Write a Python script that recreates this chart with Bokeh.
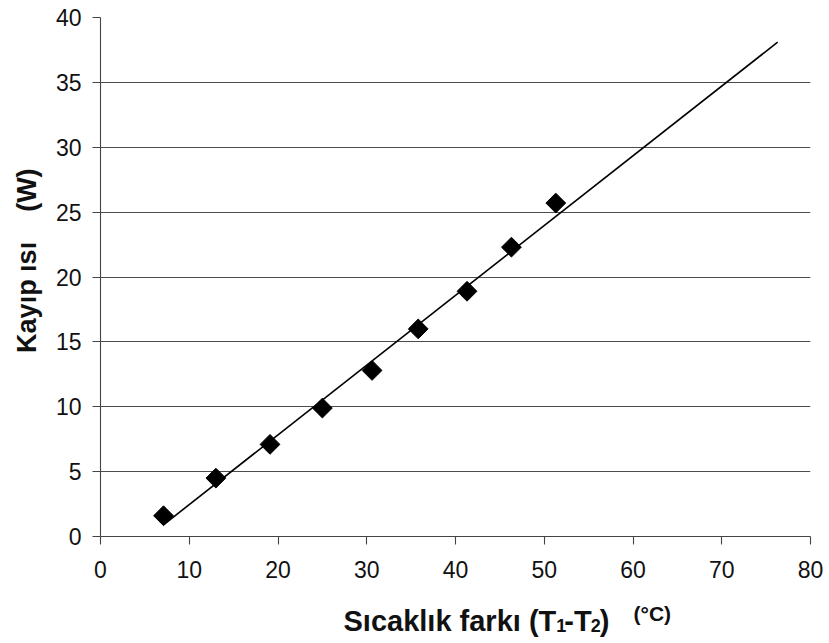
import math
from bokeh.plotting import figure
from bokeh.models import FixedTicker, Label
from bokeh.embed import file_html
from bokeh.resources import INLINE

# Data
delta_t = [7.1, 13.0, 19.1, 25.0, 30.6, 35.8, 41.3, 46.3, 51.3]
heat_loss = [1.6, 4.5, 7.1, 9.9, 12.8, 16.0, 18.9, 22.3, 25.7]
trend_x = [7.1, 76.3]
trend_y = [0.9, 38.1]
x_ticks = [0, 10, 20, 30, 40, 50, 60, 70, 80]
y_ticks = [0, 5, 10, 15, 20, 25, 30, 35, 40]

FONT = "Liberation Sans"
AXIS_COL = "#444444"
GRID_COL = "#4d4d4d"
TXT = "#111111"

p = figure(width=829, height=643, x_range=(0, 80), y_range=(0, 40),
           output_backend="svg", toolbar_location=None,
           min_border_left=100, min_border_right=19, min_border_top=17, min_border_bottom=107)
p.outline_line_color = None
p.background_fill_color = "white"
p.border_fill_color = "white"

p.xgrid.grid_line_color = None
p.ygrid.grid_line_color = GRID_COL
p.ygrid.grid_line_width = 1.1
p.ygrid.ticker = FixedTicker(ticks=y_ticks)

p.xaxis.ticker = FixedTicker(ticks=x_ticks)
p.yaxis.ticker = FixedTicker(ticks=y_ticks)
for ax in (p.xaxis[0], p.yaxis[0]):
    ax.axis_line_color = AXIS_COL
    ax.axis_line_width = 1.1
    ax.major_tick_line_color = AXIS_COL
    ax.major_tick_line_width = 1.1
    ax.major_tick_out = 8
    ax.major_tick_in = 0
    ax.minor_tick_line_color = None
    ax.major_label_text_font = FONT
    ax.major_label_text_font_size = "23px"
    ax.major_label_text_color = TXT
p.xaxis.major_label_standoff = 16
p.yaxis.major_label_standoff = 11

p.line(trend_x, trend_y, line_color="black", line_width=1.6)
p.scatter(delta_t, heat_loss, marker="square", size=14, angle=math.pi / 4,
          fill_color="black", line_color="black")

# ---- x-axis title: main text with gaps, subscripts as separate labels ----
# advance widths of Arial/Liberation Sans Bold (units per em = 1000)
ADV = {"S": 667, "ı": 278, "c": 556, "a": 556, "k": 556, "l": 278, " ": 278,
       "\u00a0": 278, "f": 333, "r": 389, "(": 333, ")": 333, "T": 611, "-": 333}
PX_PER_X = 710 / 80.0  # frame width in px / x span


def text_width(s, size):
    return sum(ADV.get(ch, 556) for ch in s) * size / 1000.0


MAIN_SIZE = 29
SUB_SIZE = 18
x0 = 27.38
base_y = -6.55
sub_y = -6.86
p.add_layout(Label(x=x0, y=base_y, text="Sıcaklık farkı (T\u00a0-T\u00a0)",
                   text_font=FONT, text_font_style="bold", text_font_size=f"{MAIN_SIZE}px",
                   text_align="left", text_baseline="alphabetic", text_color=TXT), "below")
x_sub1 = x0 + text_width("Sıcaklık farkı (T", MAIN_SIZE) / PX_PER_X
x_sub2 = x0 + text_width("Sıcaklık farkı (T\u00a0-T", MAIN_SIZE) / PX_PER_X - 0.1
p.add_layout(Label(x=x_sub1, y=sub_y, text="1",
                   text_font=FONT, text_font_style="bold", text_font_size=f"{SUB_SIZE}px",
                   text_align="left", text_baseline="alphabetic", text_color=TXT), "left")
p.add_layout(Label(x=x_sub2, y=sub_y, text="2",
                   text_font=FONT, text_font_style="bold", text_font_size=f"{SUB_SIZE}px",
                   text_align="left", text_baseline="alphabetic", text_color=TXT), "right")

p.add_layout(Label(x=60.06, y=-5.95, text="(°C)",
                   text_font=FONT, text_font_style="bold", text_font_size="21px",
                   text_align="left", text_baseline="alphabetic", text_color=TXT), "below")

# ---- y-axis title ----
p.add_layout(Label(x=-8.33, y=14.15, text="Kayıp ısı\u00a0\u00a0\u00a0\u00a0(W)",
                   angle=math.pi / 2,
                   text_font=FONT, text_font_style="bold", text_font_size="27px",
                   text_align="left", text_baseline="alphabetic", text_color=TXT), "left")

open("out.html", "w").write(file_html(p, INLINE))
